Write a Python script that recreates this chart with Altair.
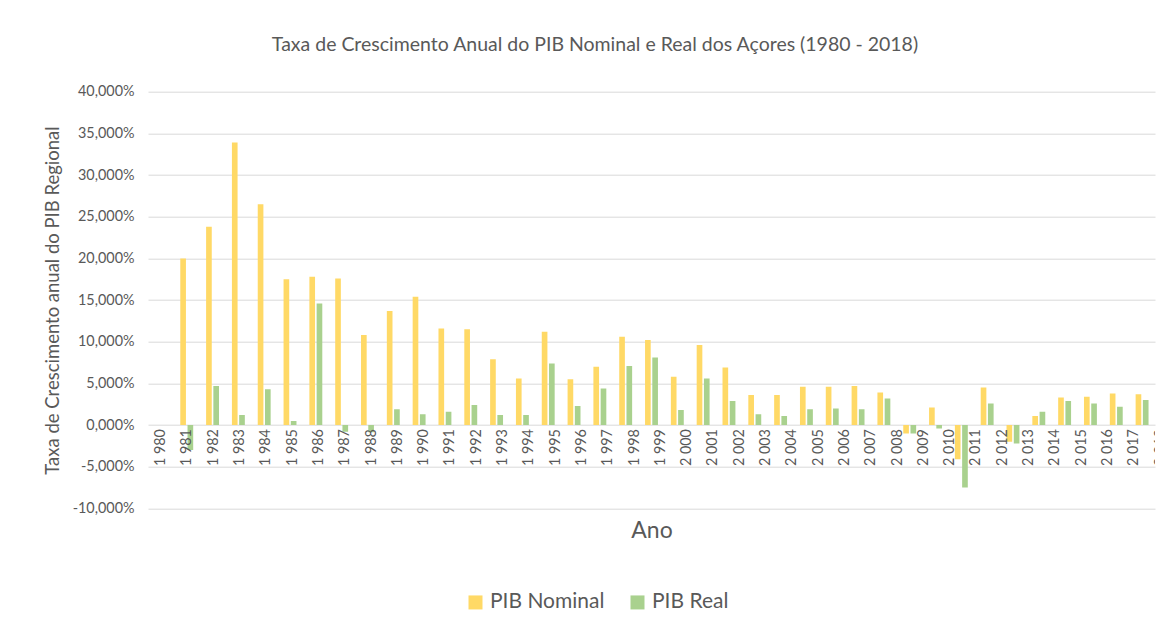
import altair as alt
import pandas as pd

FONT = "Lato"
TEXT_COLOR = "#595959"

years = list(range(1980, 2019))
year_labels = [
    "1 980", "1 981", "1 982", "1 983", "1 984", "1 985", "1 986", "1 987", "1 988", "1 989",
    "1 990", "1 991", "1 992", "1 993", "1 994", "1 995", "1 996", "1 997", "1 998", "1 999",
    "2 000", "2 001", "2 002", "2 003", "2 004", "2 005", "2 006", "2 007", "2 008", "2 009",
    "2 010", "2 011", "2 012", "2 013", "2 014", "2 015", "2 016", "2 017", "2 018",
]
pib_nominal = [
    None, 20.0, 23.8, 33.9, 26.5, 17.5, 17.8, 17.6, 10.8, 13.7,
    15.4, 11.6, 11.5, 7.9, 5.6, 11.2, 5.5, 7.0, 10.6, 10.2,
    5.8, 9.6, 6.9, 3.6, 3.6, 4.6, 4.6, 4.7, 3.9, -1.0,
    2.1, -4.1, 4.5, -2.0, 1.1, 3.3, 3.4, 3.8, 3.7,
]
pib_real = [
    None, -3.0, 4.7, 1.2, 4.3, 0.5, 14.6, -0.8, -0.85, 1.9,
    1.3, 1.6, 2.4, 1.2, 1.2, 7.4, 2.3, 4.4, 7.1, 8.1,
    1.8, 5.6, 2.9, 1.3, 1.1, 1.9, 2.0, 1.9, 3.2, -1.0,
    -0.4, -7.5, 2.6, -2.2, 1.6, 2.9, 2.6, 2.2, 3.0,
]
series = ["PIB Nominal", "PIB Real"]
colors = ["#FFD966", "#A9D18E"]
y_ticks = [-10, -5, 0, 5, 10, 15, 20, 25, 30, 35, 40]

df = pd.DataFrame({"year": years, series[0]: pib_nominal, series[1]: pib_real})
df_long = df.melt(id_vars="year", var_name="series", value_name="value").dropna()
df_labels = pd.DataFrame({"year": years, "label": year_labels})

label_expr = (
    "(datum.value < 0 ? '-' : '') + "
    "replace(format(abs(datum.value), '.3f'), '.', ',') + '%'"
)

bars = alt.Chart(df_long).mark_bar(clip=True).encode(
    x=alt.X(
        "year:O",
        scale=alt.Scale(domain=years, paddingInner=0.5, paddingOuter=0.25),
        axis=alt.Axis(
            title="Ano", labels=False, ticks=False, domain=False, grid=False,
            titleFont=FONT, titleFontSize=23, titleFontWeight="normal",
            titleColor=TEXT_COLOR, titlePadding=11,
        ),
    ),
    xOffset=alt.XOffset("series:N", scale=alt.Scale(domain=series, paddingInner=0.22)),
    y=alt.Y(
        "value:Q",
        scale=alt.Scale(domain=[-10, 40], nice=False, zero=False),
        axis=alt.Axis(
            values=y_ticks, labelExpr=label_expr, grid=True, gridColor="#D9D9D9",
            gridWidth=1, domain=False, ticks=False, labelPadding=14,
            labelFont=FONT, labelFontSize=14.4, labelColor=TEXT_COLOR,
            title="Taxa de Crescimento anual do PIB Regional",
            titleFont=FONT, titleFontSize=18.5, titleFontWeight="normal",
            titleColor=TEXT_COLOR, titlePadding=10,
        ),
    ),
    color=alt.Color(
        "series:N",
        scale=alt.Scale(domain=series, range=colors),
        legend=alt.Legend(
            title=None, orient="none", legendX=317, legendY=500,
            direction="horizontal", symbolType="square", symbolSize=196,
            symbolStrokeWidth=0, labelFont=FONT, labelFontSize=21,
            labelColor=TEXT_COLOR, columnPadding=22, labelOffset=4,
        ),
    ),
)

labels = alt.Chart(df_labels).mark_text(
    angle=270, align="right", baseline="middle", dx=-4,
    font=FONT, fontSize=14.4, color=TEXT_COLOR, clip=True,
).encode(
    x=alt.X(
        "year:O",
        scale=alt.Scale(type="band", domain=years, range=[0, 1025.7],
                        paddingInner=0, paddingOuter=0),
        axis=None,
    ),
    y=alt.datum(0),
    text="label:N",
)

chart = alt.layer(bars, labels).resolve_scale(x="independent").properties(
    width=1007,
    height=416.7,
    title=alt.TitleParams(
        text="Taxa de Crescimento Anual do PIB Nominal e Real dos Açores (1980 - 2018)",
        font=FONT, fontSize=19.5, fontWeight="normal", color=TEXT_COLOR,
        anchor="middle", frame="group", dx=-56.5, offset=28,
    ),
    autosize=alt.AutoSizeParams(type="none"),
    padding={"left": 140, "top": 83.7, "right": 4, "bottom": 117},
).configure_view(stroke=None)

chart.save("out.html", embed_options={"renderer": "svg", "actions": False})
